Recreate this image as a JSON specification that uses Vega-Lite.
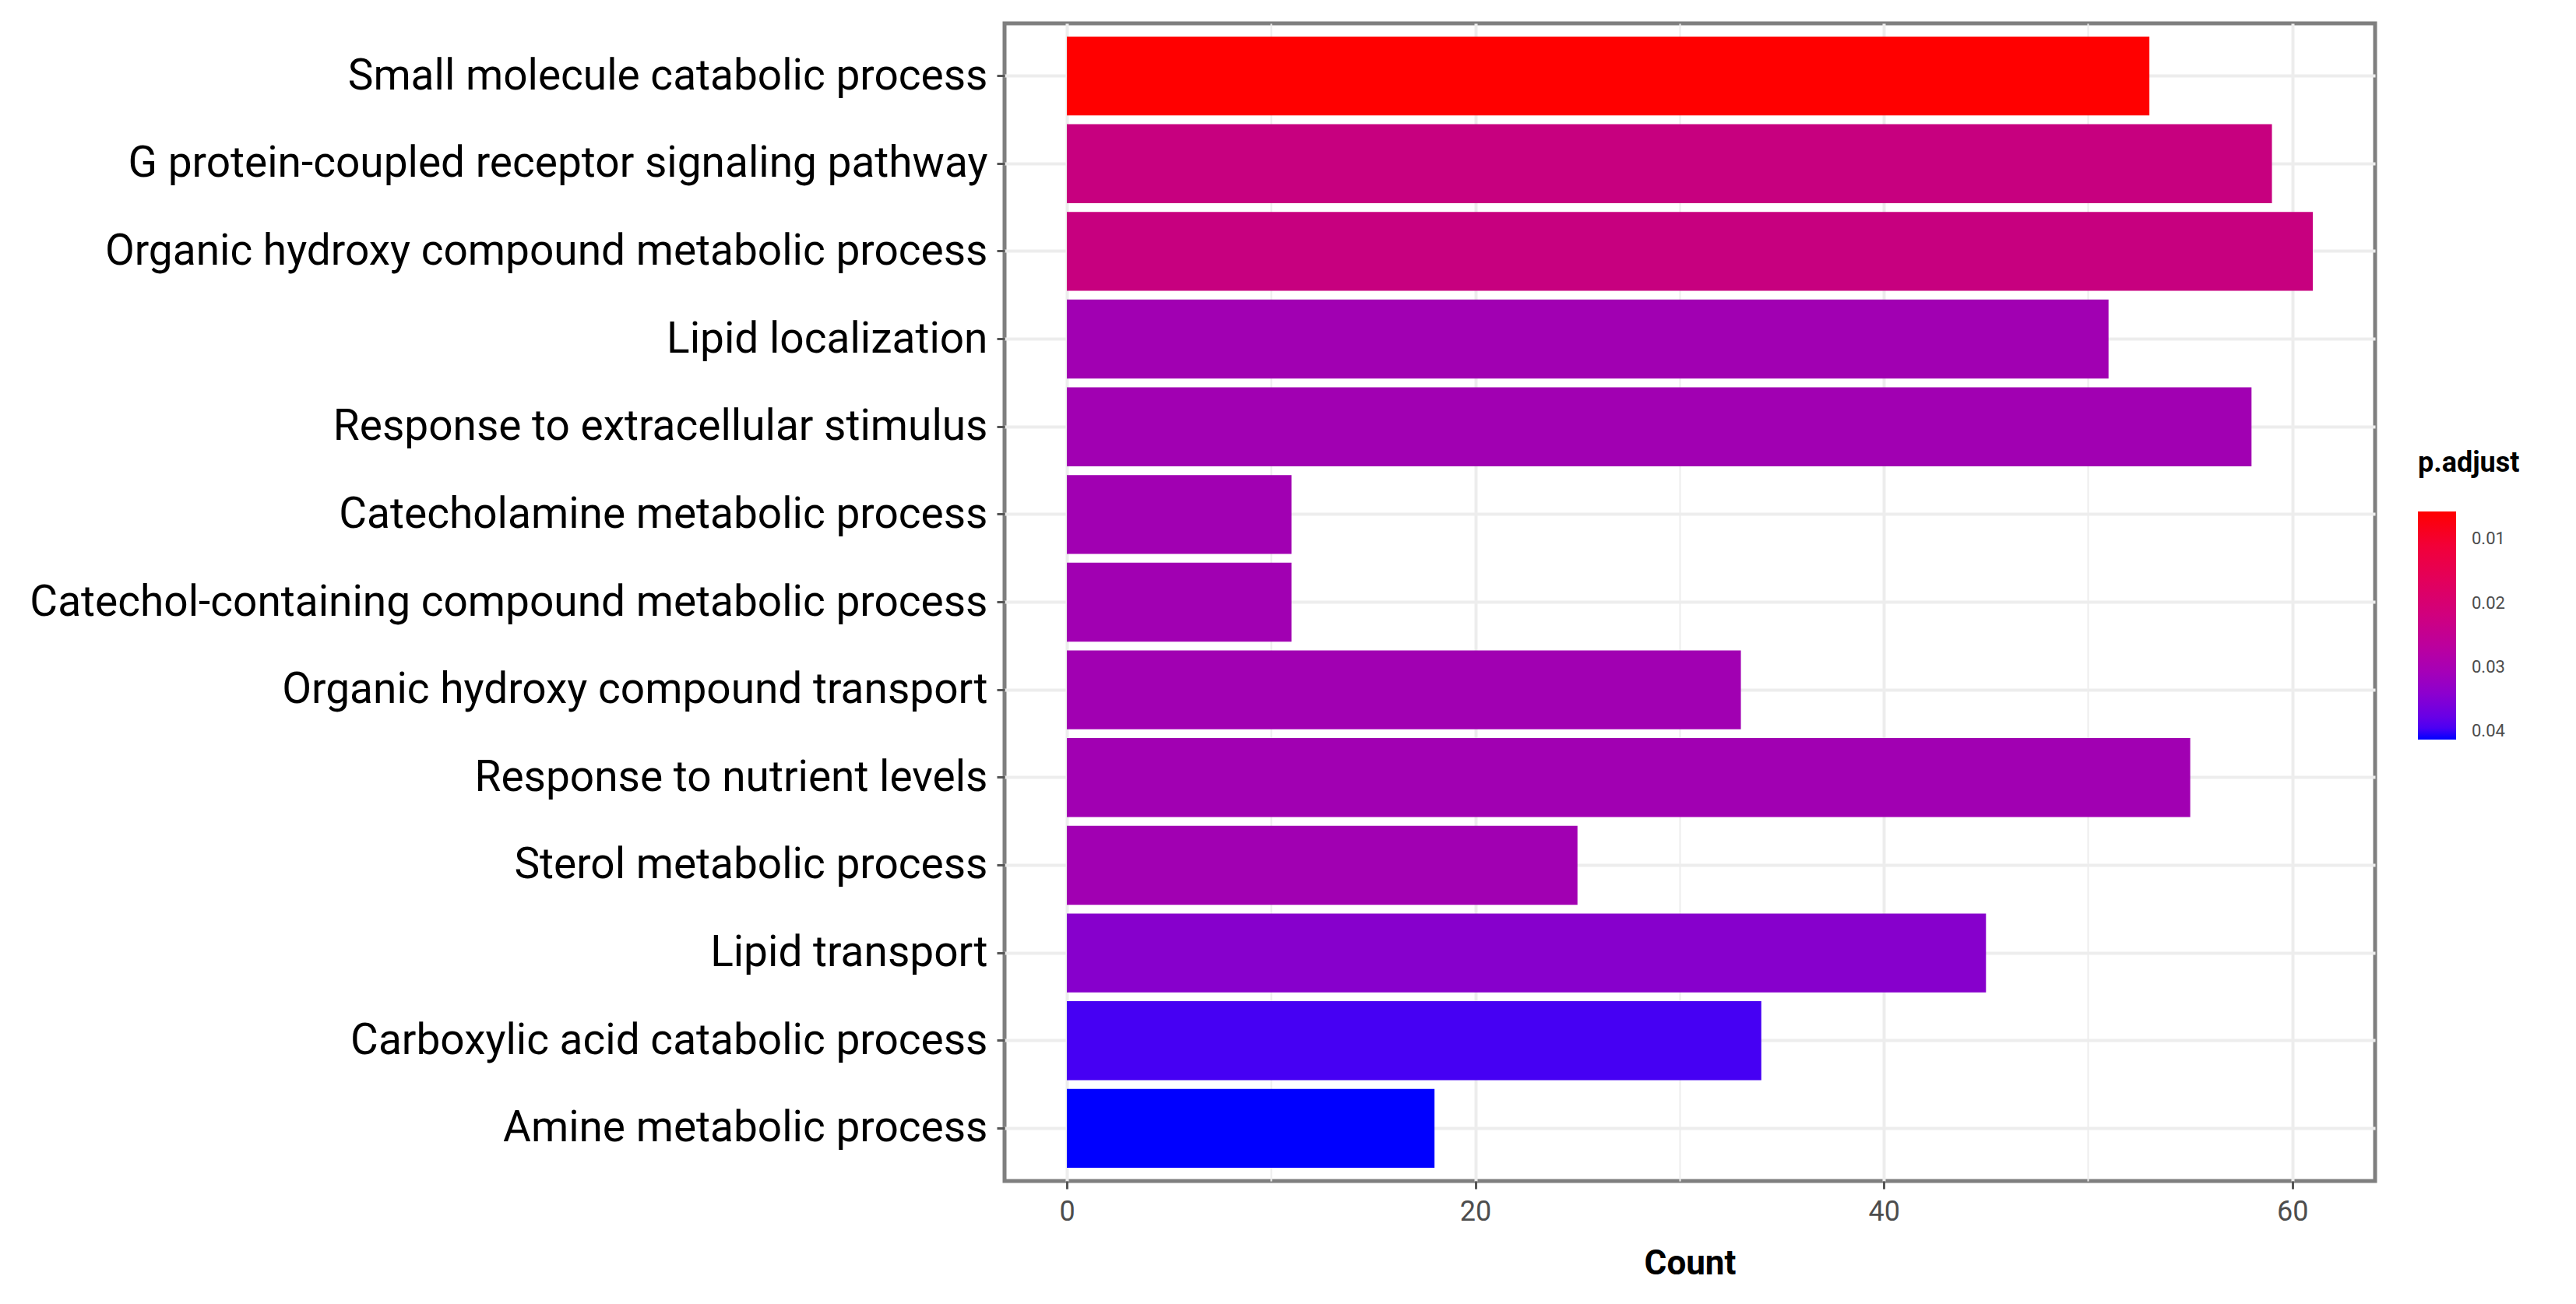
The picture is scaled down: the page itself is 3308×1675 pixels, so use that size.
{
  "$schema": "https://vega.github.io/schema/vega-lite/v6.json",
  "width": 1760,
  "height": 1487,
  "autosize": "none",
  "padding": {"left": 1290, "top": 30, "right": 258, "bottom": 158},
  "background": "white",
  "config": {
    "view": {"stroke": "#7f7f7f", "strokeWidth": 5},
    "font": "Roboto"
  },
  "data": {
    "values": [
      {"term": "Small molecule catabolic process", "Count": 53, "padj": 0.0057},
      {"term": "G protein-coupled receptor signaling pathway", "Count": 59, "padj": 0.0221},
      {"term": "Organic hydroxy compound metabolic process", "Count": 61, "padj": 0.0221},
      {"term": "Lipid localization", "Count": 51, "padj": 0.0299},
      {"term": "Response to extracellular stimulus", "Count": 58, "padj": 0.0299},
      {"term": "Catecholamine metabolic process", "Count": 11, "padj": 0.0299},
      {"term": "Catechol-containing compound metabolic process", "Count": 11, "padj": 0.0299},
      {"term": "Organic hydroxy compound transport", "Count": 33, "padj": 0.0299},
      {"term": "Response to nutrient levels", "Count": 55, "padj": 0.0299},
      {"term": "Sterol metabolic process", "Count": 25, "padj": 0.0299},
      {"term": "Lipid transport", "Count": 45, "padj": 0.0338},
      {"term": "Carboxylic acid catabolic process", "Count": 34, "padj": 0.0395},
      {"term": "Amine metabolic process", "Count": 18, "padj": 0.0413}
    ]
  },
  "mark": {"type": "bar"},
  "encoding": {
    "y": {
      "field": "term",
      "type": "nominal",
      "sort": null,
      "scale": {"paddingInner": 0.1, "paddingOuter": 0.15},
      "axis": {
        "title": null,
        "domain": false,
        "grid": true,
        "gridColor": "#ededed",
        "gridWidth": 4,
        "bandPosition": 0.5,
        "ticks": true,
        "tickSize": 10,
        "tickWidth": 3,
        "tickColor": "#555555",
        "labelFontSize": 55,
        "labelColor": "#000000",
        "labelPadding": 12,
        "labelLimit": 2000
      }
    },
    "x": {
      "field": "Count",
      "type": "quantitative",
      "scale": {"domain": [-3.05, 64.05], "nice": false, "zero": false},
      "axis": {
        "title": "Count",
        "titleFontSize": 44,
        "titleFontWeight": "bold",
        "titleColor": "#000000",
        "titlePadding": 27,
        "domain": false,
        "values": [0, 10, 20, 30, 40, 50, 60],
        "labelExpr": "datum.value % 20 === 0 ? datum.label : ''",
        "grid": true,
        "gridColor": "#ededed",
        "gridWidth": {"condition": {"test": "datum.value % 20 !== 0", "value": 2}, "value": 4},
        "tickOpacity": {"condition": {"test": "datum.value % 20 !== 0", "value": 0}, "value": 1},
        "tickSize": 10,
        "tickWidth": 3,
        "tickColor": "#555555",
        "labelFontSize": 36,
        "labelColor": "#4d4d4d",
        "labelPadding": 12
      }
    },
    "color": {
      "field": "padj",
      "type": "quantitative",
      "scale": {
        "type": "linear",
        "domain": [0.0057, 0.0413],
        "range": ["#ff0000", "#0000ff"],
        "interpolate": "lab",
        "nice": false,
        "zero": false
      },
      "legend": {
        "title": "p.adjust",
        "orient": "none",
        "legendX": 1815,
        "legendY": 548,
        "direction": "vertical",
        "gradientLength": 293,
        "gradientThickness": 49,
        "gradientStrokeWidth": 0,
        "values": [0.01, 0.02, 0.03, 0.04],
        "titleFontSize": 36,
        "titleFontWeight": "bold",
        "titleColor": "#000000",
        "titlePadding": 43,
        "labelFontSize": 22,
        "labelColor": "#4d4d4d",
        "labelOffset": 20,
        "encode": {
          "gradient": {
            "update": {
              "fill": {
                "value": {
                  "gradient": "linear",
                  "x1": 0, "y1": 0, "x2": 0, "y2": 1,
                  "stops": [
                    {"offset": 0, "color": "#ff0000"},
                    {"offset": 0.15, "color": "#f20038"},
                    {"offset": 0.3, "color": "#e3005b"},
                    {"offset": 0.45, "color": "#d1007d"},
                    {"offset": 0.6, "color": "#ba00a0"},
                    {"offset": 0.7, "color": "#a600b7"},
                    {"offset": 0.8, "color": "#8c00cf"},
                    {"offset": 0.9, "color": "#6800e6"},
                    {"offset": 0.95, "color": "#4b00f3"},
                    {"offset": 1, "color": "#0000ff"}
                  ]
                }
              }
            }
          },
          "labels": {
            "update": {
              "y": {"signal": "datum.perc * 293"},
              "baseline": {"value": "middle"}
            }
          }
        }
      }
    }
  }
}
